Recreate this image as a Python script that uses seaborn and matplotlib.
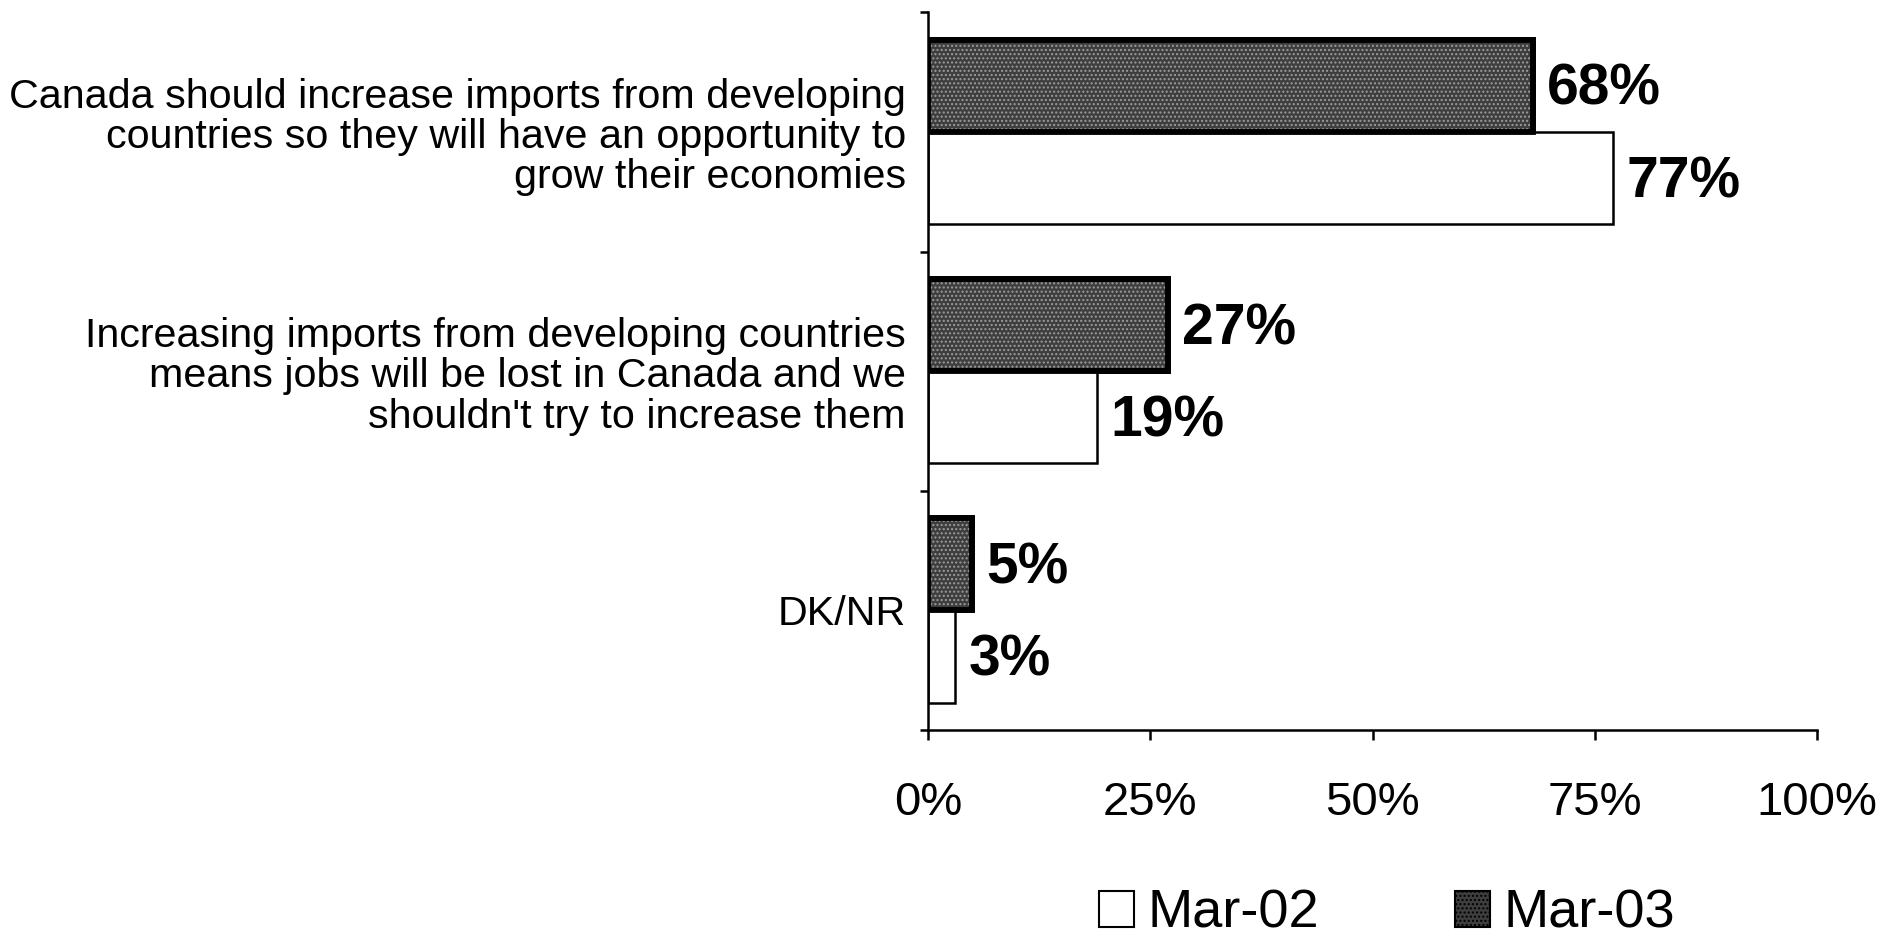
import matplotlib
matplotlib.use('Agg')
import matplotlib.pyplot as plt
import seaborn as sns
import pandas as pd
from matplotlib.patches import Patch, Rectangle

# 数据
categories = [
    "Canada should increase imports from developing\ncountries so they will have an opportunity to\ngrow their economies",
    "Increasing imports from developing countries\nmeans jobs will be lost in Canada and we\nshouldn't try to increase them",
    "DK/NR",
]
periods = ["Mar-03", "Mar-02"]
mar03_values = [68, 27, 5]
mar02_values = [77, 19, 3]
x_ticks = [0, 25, 50, 75, 100]
x_tick_labels = ["0%", "25%", "50%", "75%", "100%"]

sns.set_style("white")
plt.rcParams['font.family'] = ['Liberation Sans', 'DejaVu Sans']
plt.rcParams['text.color'] = 'black'
plt.rcParams['xtick.color'] = 'black'
plt.rcParams['ytick.color'] = 'black'
plt.rcParams['hatch.linewidth'] = 1.0

dark = "#3e3e3e"

df = pd.DataFrame({
    "category": categories * 2,
    "period": ["Mar-03"] * 3 + ["Mar-02"] * 3,
    "value": mar03_values + mar02_values,
})

fig = plt.figure(figsize=(18.87, 9.42), dpi=100)
ax = fig.add_axes([0.4918, 0.225, 0.4712, 0.762])

sns.barplot(data=df, y="category", x="value", hue="period", hue_order=periods,
            order=categories, orient="h", width=0.77, ax=ax,
            palette={"Mar-03": dark, "Mar-02": "white"})

# 样式：深色柱带粗黑边 + 点状纹理，白色柱细黑边
n = len(categories)
for i, bar in enumerate(ax.patches[:2 * n]):
    if i < n:
        bar.set_facecolor(dark)
        bar.set_edgecolor("black")
        bar.set_linewidth(4.2)
        # 叠加浅灰点纹，模拟原图的颗粒质感
        tex = Rectangle(bar.get_xy(), bar.get_width(), bar.get_height(),
                        facecolor="none", edgecolor="#9c9c9c", linewidth=0,
                        hatch="....", zorder=bar.get_zorder() + 0.1)
        ax.add_patch(tex)
        edge = Rectangle(bar.get_xy(), bar.get_width(), bar.get_height(),
                         facecolor="none", edgecolor="black", linewidth=4.2,
                         zorder=bar.get_zorder() + 0.2)
        ax.add_patch(edge)
    else:
        bar.set_facecolor("white")
        bar.set_edgecolor("black")
        bar.set_linewidth(1.8)

# 数值标签
for i in range(n):
    ax.annotate(f"{mar03_values[i]}%", xy=(mar03_values[i], i - 0.1925),
                xytext=(10, -3), textcoords="offset points", va="center", ha="left",
                fontsize=41, fontweight="bold")
    ax.annotate(f"{mar02_values[i]}%", xy=(mar02_values[i], i + 0.1925),
                xytext=(10, -3), textcoords="offset points", va="center", ha="left",
                fontsize=41, fontweight="bold")

ax.set_xlim(0, 100)
ax.set_ylim(2.5, -0.5)
ax.set_xticks(x_ticks)
ax.set_xticklabels(x_tick_labels, fontsize=34)
ax.set_yticks(range(n))
ax.set_yticklabels(categories, fontsize=29.7, linespacing=1.08)
ax.set_yticks([-0.5, 0.5, 1.5, 2.5], minor=True)
ax.tick_params(axis="y", which="major", length=0, pad=16)
ax.tick_params(axis="y", which="minor", length=6, width=1.8, direction="out", left=True)
ax.tick_params(axis="x", which="major", length=7, width=1.8, direction="out", bottom=True, pad=30)
ax.set_xlabel("")
ax.set_ylabel("")

for side in ["top", "right"]:
    ax.spines[side].set_visible(False)
for side in ["left", "bottom"]:
    ax.spines[side].set_color("black")
    ax.spines[side].set_linewidth(1.8)

if ax.get_legend() is not None:
    ax.get_legend().remove()

handles = [Patch(facecolor="white", edgecolor="black", linewidth=1.5, label="Mar-02"),
           Patch(facecolor=dark, edgecolor="black", linewidth=1.5, hatch="....", label="Mar-03")]
fig.legend(handles=handles, loc="center", bbox_to_anchor=(0.735, 0.03), ncol=2,
           frameon=False, fontsize=39, handlelength=0.65, handleheight=0.65,
           handletextpad=0.25, columnspacing=2.5, borderpad=0)

fig.savefig("out.png", dpi=100)
